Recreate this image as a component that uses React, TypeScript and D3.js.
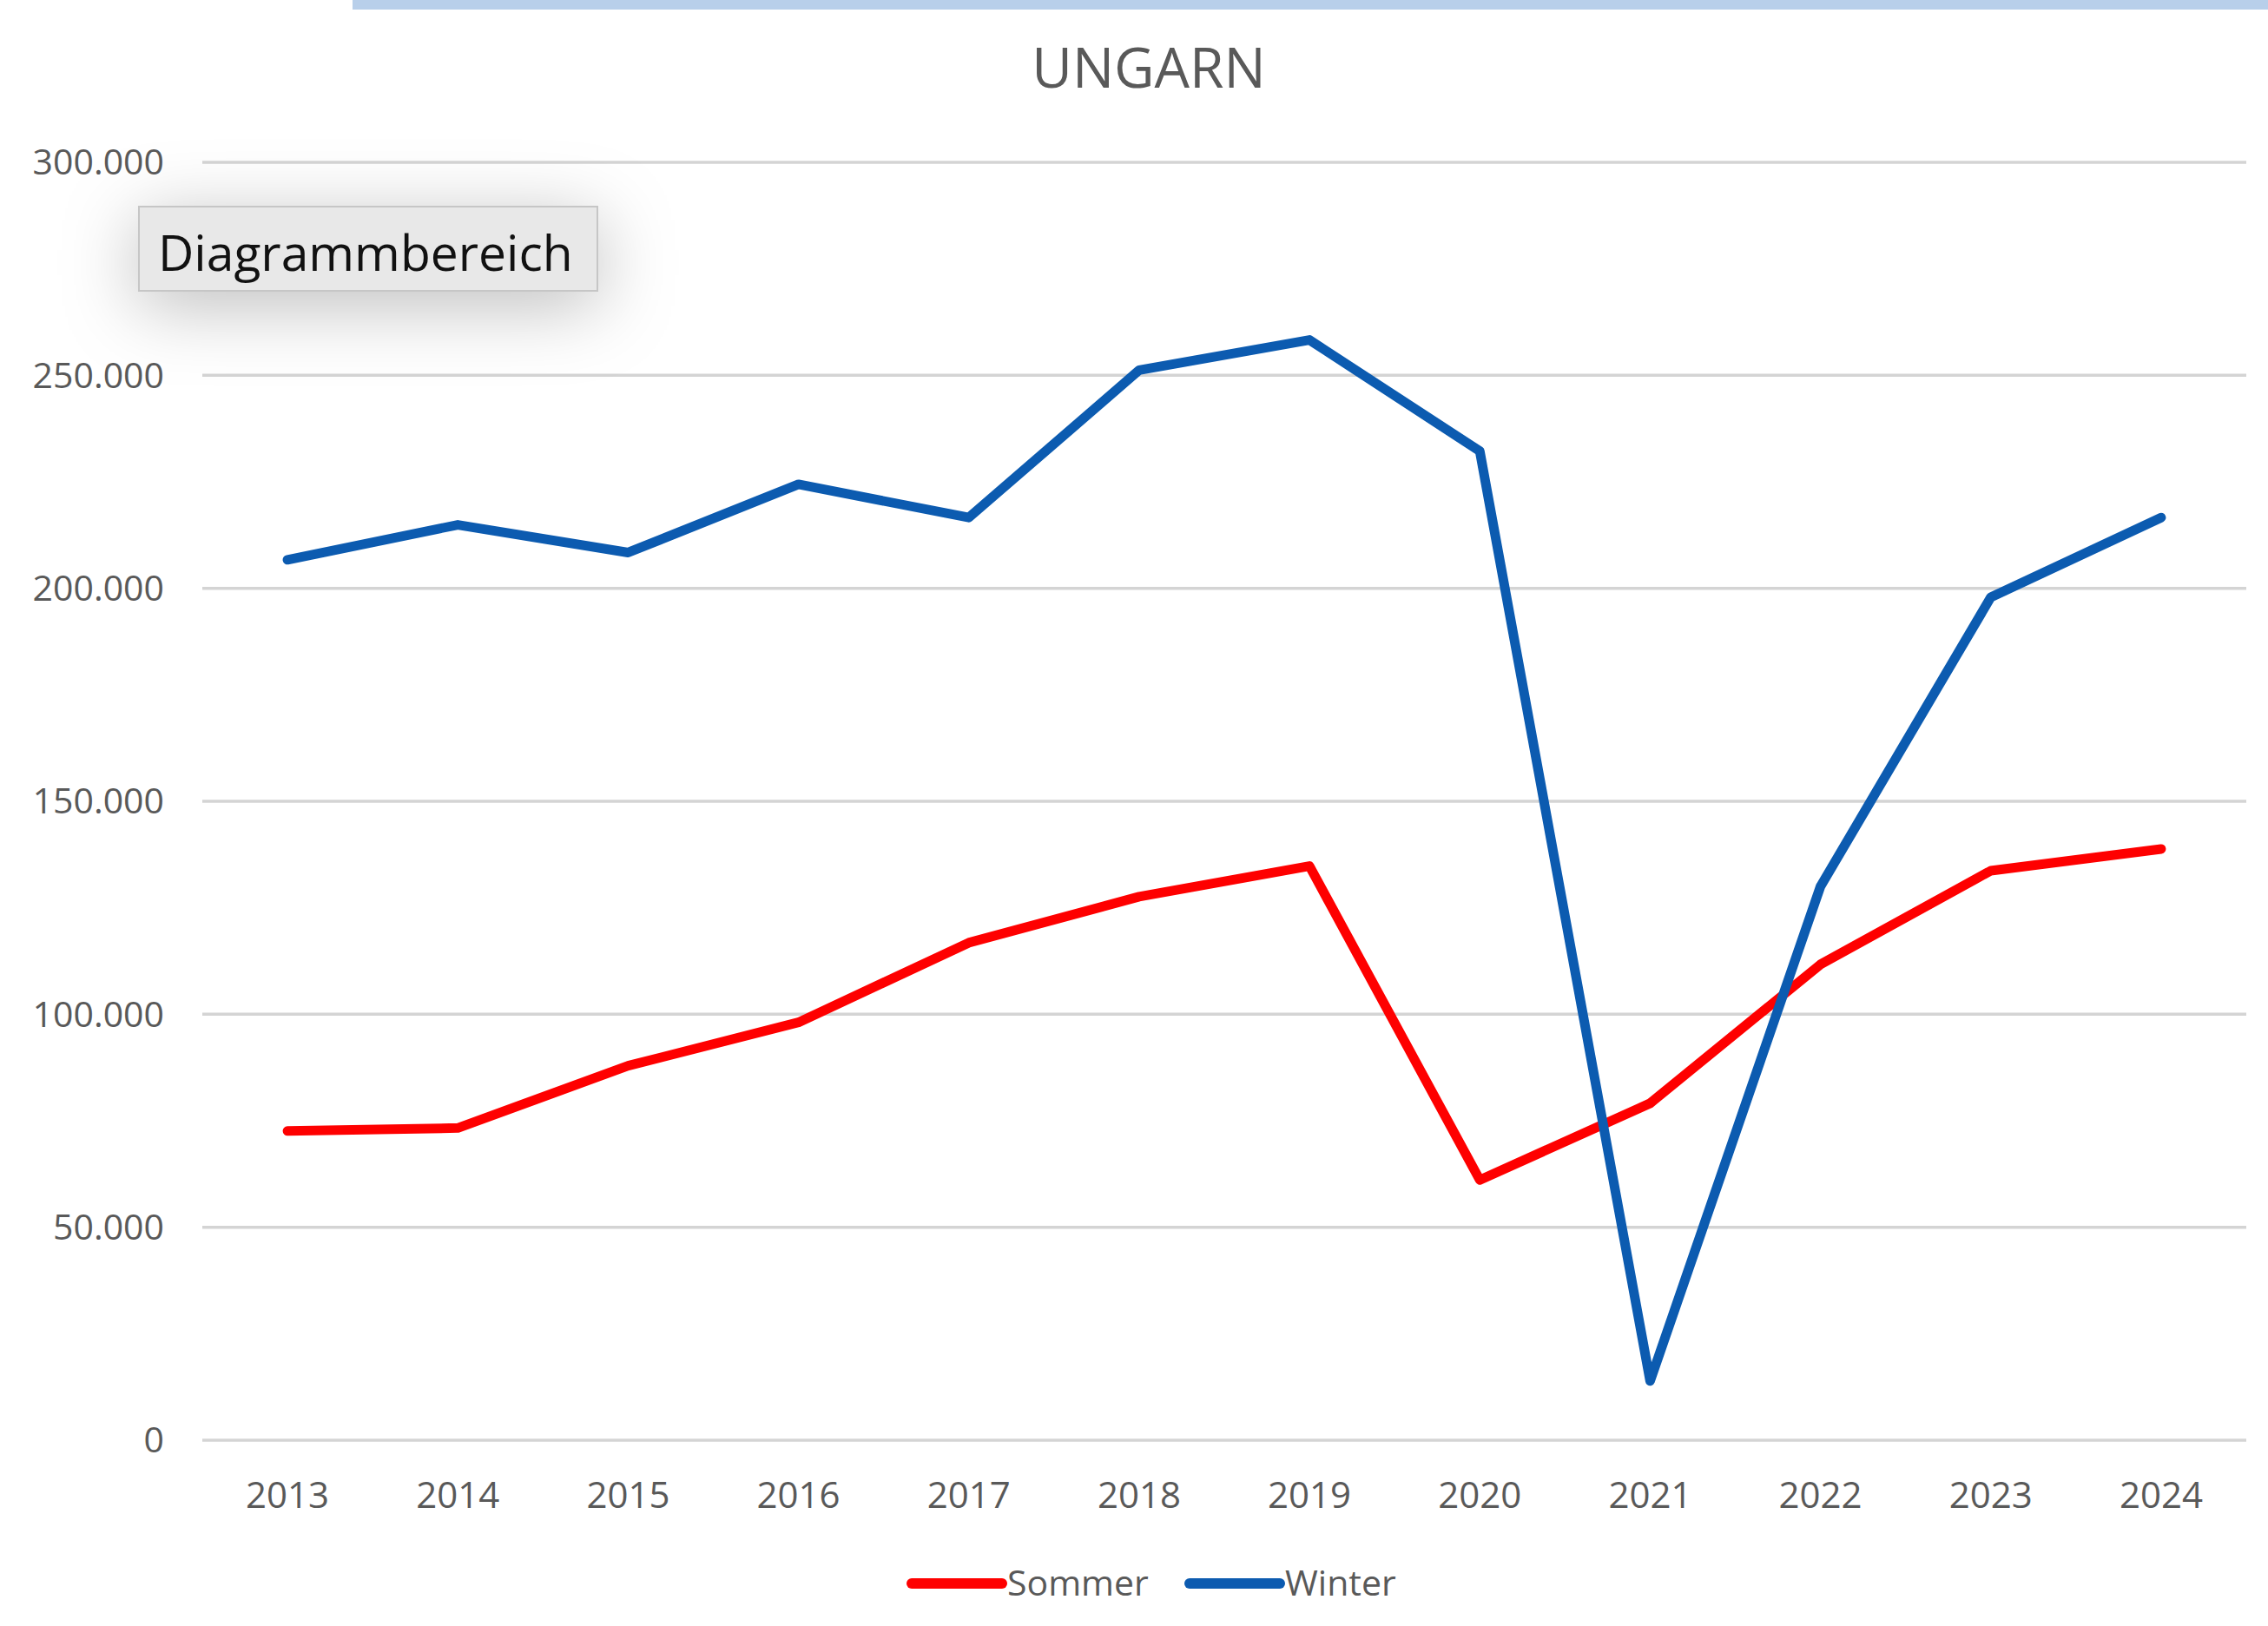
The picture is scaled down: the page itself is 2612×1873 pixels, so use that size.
import * as d3 from 'd3';

const years = ['2013', '2014', '2015', '2016', '2017', '2018', '2019', '2020', '2021', '2022', '2023', '2024'];
const sommer = [72600, 73300, 87900, 98100, 116800, 127600, 134800, 61100, 79100, 111700, 133700, 138800];
const winter = [206700, 214900, 208400, 224400, 216600, 251200, 258300, 232200, 13900, 130000, 197900, 216600];
const yTicks = [0, 50000, 100000, 150000, 200000, 250000, 300000];

const W = 2612;
const H = 1873;
const left = 233;
const right = 2587;
const top = 187;
const bottom = 1659;
const font = '"Open Sans", "Noto Sans", sans-serif';

const fmt = (v: number) => (v === 0 ? '0' : d3.format(',')(v).replace(/,/g, '.'));

const App = () => {
  const x = d3.scaleBand<string>().domain(years).range([left, right]);
  const y = d3.scaleLinear().domain([0, 300000]).range([bottom, top]);
  const cx = (d: string) => (x(d) ?? 0) + x.bandwidth() / 2;

  const line = d3
    .line<number>()
    .x((_, i) => cx(years[i]))
    .y((d) => y(d));

  const series = [
    { name: 'Sommer', values: sommer, color: '#fe0000' },
    { name: 'Winter', values: winter, color: '#0c5bb0' },
  ];

  return (
    <svg width={W} height={H} style={{ position: 'absolute', left: 0, top: 0, background: '#fff' }}>
      <defs>
        <filter id="shadow" x="-60%" y="-150%" width="220%" height="400%">
          <feDropShadow dx="0" dy="16" stdDeviation="42" floodColor="#000" floodOpacity="0.26" />
        </filter>
      </defs>
      <rect x={406} y={0} width={W - 406} height={11} fill="#b8cfea" />
      <text x={1323} y={101} textAnchor="middle" fontFamily={font} fontSize={64} fill="#595959">
        UNGARN
      </text>

      {yTicks.map((t) => (
        <g key={t}>
          <line x1={left} x2={right} y1={y(t)} y2={y(t)} stroke="#d4d4d4" strokeWidth={3.5} />
          <text x={189} y={y(t)} dy="0.35em" textAnchor="end" fontFamily={font} fontSize={41} fill="#595959">
            {fmt(t)}
          </text>
        </g>
      ))}

      {years.map((yr) => (
        <text key={yr} x={cx(yr)} y={1737} textAnchor="middle" fontFamily={font} fontSize={42} fill="#595959">
          {yr}
        </text>
      ))}

      {series.map((s) => (
        <path
          key={s.name}
          d={line(s.values) ?? ''}
          fill="none"
          stroke={s.color}
          strokeWidth={11}
          strokeLinejoin="round"
          strokeLinecap="round"
        />
      ))}

      {series.map((s, i) => {
        const lx = i === 0 ? 1050 : 1370;
        return (
          <g key={s.name}>
            <line x1={lx} x2={lx + 104} y1={1824} y2={1824} stroke={s.color} strokeWidth={12} strokeLinecap="round" />
            <text x={lx + 110} y={1824} dy="0.35em" fontFamily={font} fontSize={41} fill="#595959">
              {s.name}
            </text>
          </g>
        );
      })}

      <rect x={160} y={238} width={528} height={97} fill="#e8e8e8" stroke="#c6c6c6" strokeWidth={2} filter="url(#shadow)" />
      <text x={182} y={292} dy="0.35em" fontFamily={font} fontSize={57} fill="#111">
        Diagrammbereich
      </text>
    </svg>
  );
};

export default App;
